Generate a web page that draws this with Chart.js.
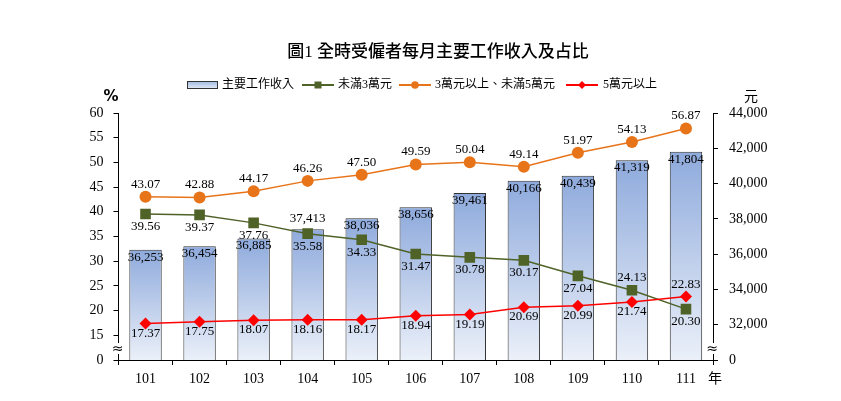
<!DOCTYPE html>
<html>
<head>
<meta charset="utf-8">
<script src="https://cdn.jsdelivr.net/npm/chart.js@4/dist/chart.umd.min.js"></script>
<style>
  html, body { margin: 0; padding: 0; background: #fff; }
  #wrap { width: 841px; height: 401px; position: relative; }
</style>
</head>
<body>
<div id="wrap"><canvas id="c"></canvas></div>
<script>
// data
const years = ['101', '102', '103', '104', '105', '106', '107', '108', '109', '110', '111'];
const income = [36253, 36454, 36885, 37413, 38036, 38656, 39461, 40166, 40439, 41319, 41804];
const under3 = [39.56, 39.37, 37.76, 35.58, 34.33, 31.47, 30.78, 30.17, 27.04, 24.13, 20.30];
const from3to5 = [43.07, 42.88, 44.17, 46.26, 47.50, 49.59, 50.04, 49.14, 51.97, 54.13, 56.87];
const over5 = [17.37, 17.75, 18.07, 18.16, 18.17, 18.94, 19.19, 20.69, 20.99, 21.74, 22.83];

const SERIF = '"Liberation Serif", "Times New Roman", "Noto Sans CJK TC", serif';
const GREEN = '#4f6228';
const ORANGE = '#e8741a';
const RED = '#ff0000';

function barGradient(c) {
    const chart = c.chart;
    const area = chart.chartArea;
    const y1 = chart.scales.y1;
    if (!area || !y1) return '#a9bfe5';
    const top = y1.getPixelForValue(income[c.dataIndex]);
    const g = chart.ctx.createLinearGradient(0, top, 0, area.bottom);
    g.addColorStop(0, '#8eaadc');
    g.addColorStop(1, '#ebf0f9');
    return g;
}

// labels, legend, title, axis units and break marks
const decorPlugin = {
    id: 'decor',
    afterDatasetsDraw(chart) {
        const ctx = chart.ctx;
        ctx.save();
        ctx.fillStyle = '#000';
        ctx.font = '13px ' + SERIF;
        ctx.textAlign = 'center';

        // bar labels (inside top, except 104 above)
        chart.getDatasetMeta(0).data.forEach((el, i) => {
            const txt = income[i].toLocaleString('en-US');
            if (i === 3) {
                ctx.textBaseline = 'bottom';
                ctx.fillText(txt, el.x, el.y - 4);
            } else {
                ctx.textBaseline = 'top';
                ctx.fillText(txt, el.x, el.y + 1);
            }
        });
        // green: below, 110 above
        chart.getDatasetMeta(1).data.forEach((el, i) => {
            const txt = under3[i].toFixed(2);
            if (i === 9) {
                ctx.textBaseline = 'bottom';
                ctx.fillText(txt, el.x, el.y - 6);
            } else {
                ctx.textBaseline = 'top';
                ctx.fillText(txt, el.x, el.y + 6);
            }
        });
        // orange: above
        chart.getDatasetMeta(2).data.forEach((el, i) => {
            ctx.textBaseline = 'bottom';
            ctx.fillText(from3to5[i].toFixed(2), el.x, el.y - 6);
        });
        // red: below, 111 above
        chart.getDatasetMeta(3).data.forEach((el, i) => {
            const txt = over5[i].toFixed(2);
            if (i === 10) {
                ctx.textBaseline = 'bottom';
                ctx.fillText(txt, el.x, el.y - 6);
            } else {
                ctx.textBaseline = 'top';
                ctx.fillText(txt, el.x, el.y + 3);
            }
        });

        // title
        ctx.font = '500 17px ' + SERIF;
        ctx.textBaseline = 'middle';
        ctx.fillText('圖1 全時受僱者每月主要工作收入及占比', 438, 53);

        // legend
        ctx.font = '12px ' + SERIF;
        ctx.textAlign = 'left';
        const ly = 85;
        let g = ctx.createLinearGradient(0, ly - 4, 0, ly + 4);
        g.addColorStop(0, '#9fb7e0');
        g.addColorStop(1, '#e6ecf7');
        ctx.fillStyle = g;
        ctx.fillRect(187, ly - 4, 31, 7);
        ctx.strokeStyle = '#333';
        ctx.lineWidth = 1;
        ctx.strokeRect(187.5, ly - 3.5, 30, 7);
        ctx.fillStyle = '#000';
        ctx.fillText('主要工作收入', 222, ly);

        const legLine = (x0, x1, color, shape) => {
            ctx.strokeStyle = color;
            ctx.lineWidth = 2;
            ctx.beginPath();
            ctx.moveTo(x0, ly);
            ctx.lineTo(x1, ly);
            ctx.stroke();
            const cx = (x0 + x1) / 2;
            ctx.fillStyle = color;
            ctx.beginPath();
            if (shape === 'rect') ctx.rect(cx - 3.5, ly - 3.5, 7, 7);
            else if (shape === 'circle') ctx.arc(cx, ly, 3.8, 0, Math.PI * 2);
            else { ctx.moveTo(cx, ly - 4); ctx.lineTo(cx + 4, ly); ctx.lineTo(cx, ly + 4); ctx.lineTo(cx - 4, ly); ctx.closePath(); }
            ctx.fill();
            ctx.fillStyle = '#000';
        };
        legLine(302, 334, GREEN, 'rect');
        ctx.fillText('未滿3萬元', 338, ly);
        legLine(399, 431, ORANGE, 'circle');
        ctx.fillText('3萬元以上、未滿5萬元', 435, ly);
        legLine(566, 598, RED, 'diamond');
        ctx.fillText('5萬元以上', 603, ly);

        // units
        ctx.textAlign = 'center';
        ctx.font = 'bold 15px "DejaVu Sans", sans-serif';
        ctx.fillText('%', 111, 97);
        ctx.font = '14px ' + SERIF;
        ctx.fillText('元', 751, 97);
        ctx.fillText('年', 715, 379);

        // axis break marks
        const area = chart.chartArea;
        [area.left, area.right].forEach(x => {
            ctx.fillStyle = '#fff';
            ctx.fillRect(x - 2, 343, 4, 11);
            ctx.fillStyle = '#000';
            ctx.font = '14px "DejaVu Sans", sans-serif';
            ctx.fillText('≈', x - 1, 349);
        });
        ctx.restore();
    }
};

new Chart(document.getElementById('c'), {
    type: 'bar',
    data: {
        labels: years,
        datasets: [
            {
                type: 'bar',
                label: '主要工作收入',
                data: income,
                yAxisID: 'y1',
                backgroundColor: barGradient,
                borderColor: '#333',
                borderWidth: 1,
                barPercentage: 0.6,
                categoryPercentage: 1,
                order: 10,
            },
            {
                type: 'line',
                label: '未滿3萬元',
                data: under3,
                yAxisID: 'y',
                borderColor: GREEN,
                backgroundColor: GREEN,
                borderWidth: 1.5,
                pointStyle: 'rect',
                pointRadius: 7.5,
                pointBorderWidth: 0,
                order: 3,
            },
            {
                type: 'line',
                label: '3萬元以上、未滿5萬元',
                data: from3to5,
                yAxisID: 'y',
                borderColor: ORANGE,
                backgroundColor: ORANGE,
                borderWidth: 1.5,
                pointStyle: 'circle',
                pointRadius: 6,
                pointBorderWidth: 0,
                order: 2,
            },
            {
                type: 'line',
                label: '5萬元以上',
                data: over5,
                yAxisID: 'y',
                borderColor: RED,
                backgroundColor: RED,
                borderWidth: 1.5,
                pointStyle: 'rectRot',
                pointRadius: 6,
                pointBorderWidth: 0,
                order: 1,
            },
        ]
    },
    options: {
        responsive: true,
        maintainAspectRatio: false,
        animation: false,
        layout: { padding: { top: 113, bottom: 0, left: 0, right: 0 } },
        plugins: {
            legend: { display: false },
            tooltip: { enabled: false },
        },
        scales: {
            x: {
                offset: true,
                grid: { offset: true, drawOnChartArea: false, tickLength: 5, color: '#000' },
                border: { color: '#000' },
                ticks: { color: '#000', font: { family: SERIF, size: 14 }, padding: 6 },
                afterFit: s => { s.height = 41; },
            },
            y: {
                position: 'left',
                min: 10,
                max: 60,
                grid: { drawOnChartArea: false, tickLength: 5, color: '#000' },
                border: { color: '#000' },
                ticks: {
                    stepSize: 5,
                    color: '#000',
                    padding: 10,
                    font: { family: SERIF, size: 14 },
                    callback: v => (v === 10 ? '0' : v),
                },
                afterFit: s => { s.width = 118.5; },
            },
            y1: {
                position: 'right',
                min: 30000,
                max: 44000,
                grid: { drawOnChartArea: false, tickLength: 5, color: '#000' },
                border: { color: '#000' },
                ticks: {
                    stepSize: 2000,
                    color: '#000',
                    padding: 11,
                    font: { family: SERIF, size: 14 },
                    callback: v => (v === 30000 ? '0' : v.toLocaleString('en-US')),
                },
                afterFit: s => { s.width = 128; },
            },
        }
    },
    plugins: [decorPlugin]
});
</script>
</body>
</html>
